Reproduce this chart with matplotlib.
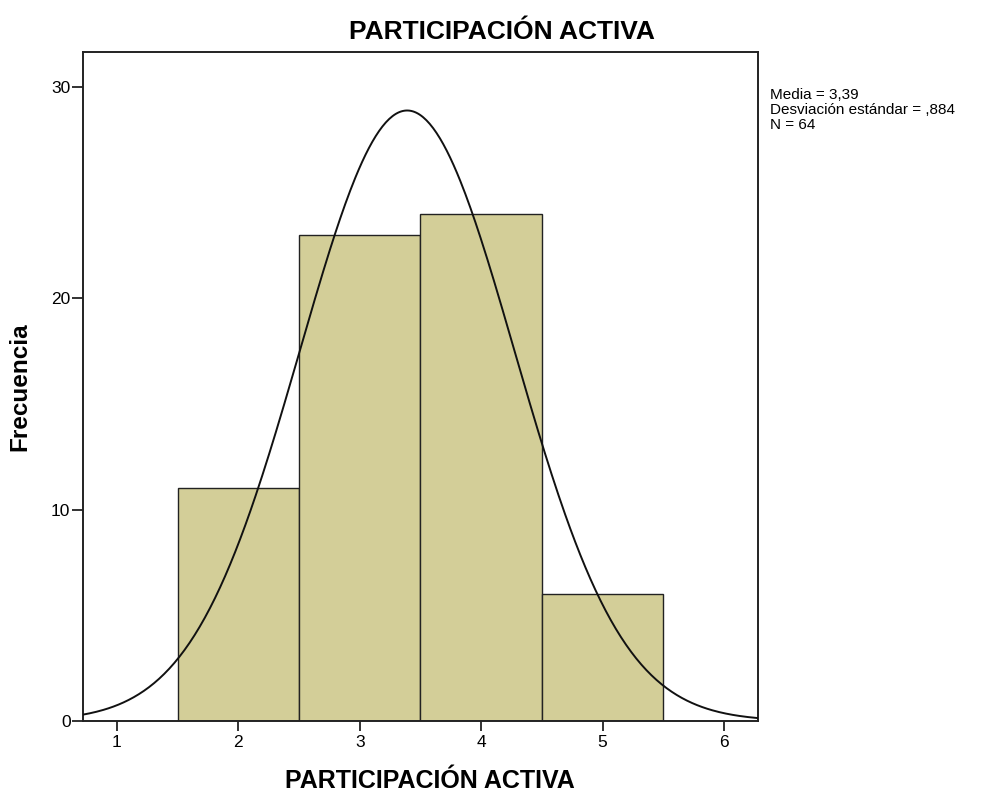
import numpy as np
import matplotlib
matplotlib.use("Agg")
import matplotlib.pyplot as plt

plt.rcParams['font.family'] = ['Liberation Sans', 'DejaVu Sans']

# Datos del histograma
valores = [2, 3, 4, 5]
frecuencias = [11, 23, 24, 6]
media = 3.39
desv = 0.884
n = 64

fig = plt.figure(figsize=(9.9, 7.92), dpi=100)
ax = fig.add_axes([83/990, 1 - 721/792, 675/990, 669/792])

ax.bar(valores, frecuencias, width=1.0, color='#D3CE98', edgecolor='#222222', linewidth=1.0, zorder=2)

x = np.linspace(0.72, 6.28, 400)
y = n * 1.0 * np.exp(-0.5 * ((x - media) / desv) ** 2) / (desv * np.sqrt(2 * np.pi))
ax.plot(x, y, color='#111111', linewidth=1.4, zorder=3)

ax.set_xlim(0.72, 6.28)
ax.set_ylim(0, 31.65)
ax.set_xticks([1, 2, 3, 4, 5, 6])
ax.set_yticks([0, 10, 20, 30])
ax.tick_params(axis='y', length=8, width=1.3, labelsize=12.5, pad=1, color='#222222')
ax.tick_params(axis='x', length=7, width=1.3, labelsize=12.5, pad=3, color='#222222')
for s in ax.spines.values():
    s.set_linewidth(1.4)
    s.set_color('#222222')

ax.set_xlabel('PARTICIPACIÓN ACTIVA', fontsize=18, fontweight='bold', labelpad=14)
ax.xaxis.set_label_coords(0.514, -0.072)
ax.set_ylabel('Frecuencia', fontsize=17.5, fontweight='bold', labelpad=14)
fig.text(502/990, 1 - 32/792, 'PARTICIPACIÓN ACTIVA', fontsize=19, fontweight='bold',
         ha='center', va='center')

fig.text(770/990, 1 - 88/792, 'Media = 3,39\nDesviación estándar = ,884\nN = 64',
         fontsize=11, va='top', ha='left', linespacing=1.08)

fig.savefig('out.png', dpi=100)
